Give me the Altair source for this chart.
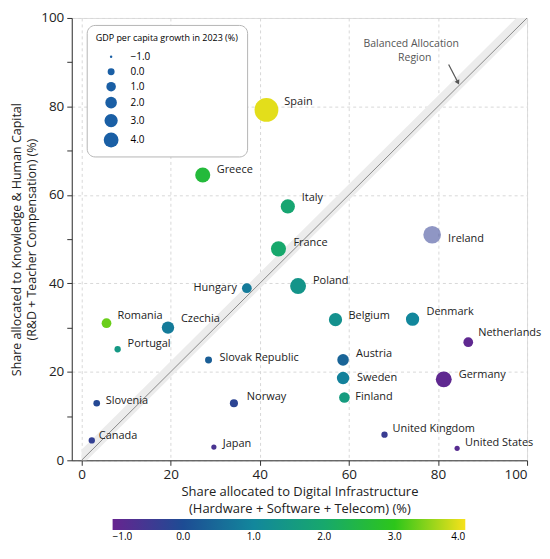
import altair as alt
import pandas as pd

countries = ["Spain", "Greece", "Italy", "France", "Poland", "Belgium", "Denmark", "Ireland",
             "Netherlands", "Germany", "Austria", "Sweden", "Finland", "United Kingdom",
             "United States", "Hungary", "Romania", "Czechia", "Portugal", "Slovak Republic",
             "Slovenia", "Norway", "Canada", "Japan"]
digital = [41.5, 27.2, 46.3, 44.2, 48.6, 57.0, 74.3, 78.7, 86.8, 81.3, 58.7, 58.7, 59.0, 68.0,
           84.3, 37.1, 5.6, 19.4, 8.1, 28.5, 3.4, 34.2, 2.3, 29.7]
knowledge = [79.2, 64.5, 57.4, 47.8, 39.4, 31.8, 31.9, 51.0, 26.7, 18.3, 22.7, 18.6, 14.2, 5.8,
             2.7, 38.9, 31.0, 30.0, 25.1, 22.7, 12.9, 12.9, 4.5, 3.0]
growth = [3.9, 2.6, 1.9, 2.0, 1.4, 1.3, 1.0, -0.3, -0.9, -0.9, 0.4, 0.9, 1.6, -0.4, -0.8, 0.8,
          3.3, 0.8, 1.5, 0.3, -0.1, -0.2, -0.3, -0.6]
bubble = [12.2, 4.2, 3.6, 4.2, 4.8, 3.0, 3.0, 6.2, 1.1, 4.8, 2.0, 2.5, 1.5, -0.2, -0.5, 1.1,
          1.1, 2.5, -0.2, 0.0, -0.1, 0.4, -0.2, -0.5]
alpha = [1, 1, 1, 1, 1, 1, 1, 0.55, 1, 1, 1, 1, 1, 1, 1, 1, 1, 1, 1, 1, 1, 1, 1, 1]
label_dx = [18, 14, 14, 15, 15, 13, 14, 16, 10, 15, 13, 14, 11, 8, 8, -10, 11, 13, 10, 11, 9, 13, 7, 9]
label_dy = [-8, -5, -8, -6, -5, -4, -7, 4, -9, -4, -6, 0, 0, -6, -5, 0, -7, -9, -5, -2, -2, -6, -4, -3]

legend_values = [-1.0, 0.0, 1.0, 2.0, 3.0, 4.0]
color_domain = [-1, 0, 1, 2, 3, 4]
color_range = ["#66248f", "#1d4c94", "#12879c", "#17a86c", "#2dc61a", "#f7e11b"]

diag_x = [0, 100]
band_below = 1.2
band_above = 2.4
ann_lines = ["Balanced Allocation", "Region"]
ann_x = [74.0, 74.8]
ann_y = [94.2, 91.0]
arrow_x = [82.4, 84.5]
arrow_y = [89.5, 85.4]

W, H = 457, 444
XDOM = [-2.2, 100]
PX_X = W / (XDOM[1] - XDOM[0])
PX_Y = H / 100.0

df = pd.DataFrame({"country": countries, "digital": digital, "knowledge": knowledge,
                   "growth": growth, "bubble": bubble, "alpha": alpha,
                   "dx": label_dx, "dy": label_dy})
band_df = pd.DataFrame({"x": diag_x, "lo": [v - band_below for v in diag_x],
                        "hi": [v + band_above for v in diag_x]})
ann_df = pd.DataFrame({"x": ann_x, "y": ann_y, "t": ann_lines})
arrow_df = pd.DataFrame({"x": [arrow_x[0]], "y": [arrow_y[0]], "x2": [arrow_x[1]], "y2": [arrow_y[1]]})
tip_df = pd.DataFrame({"x": [arrow_x[1]], "y": [arrow_y[1]]})

FONT = "Open Sans"
xscale = alt.Scale(domain=XDOM, nice=False, zero=False)
yscale = alt.Scale(domain=[0, 100], nice=False)

xaxis = alt.Axis(values=[0, 20, 40, 60, 80, 100], grid=True, gridDash=[3, 3], gridColor="#d8d8d8",
                 title=["Share allocated to Digital Infrastructure", "(Hardware + Software + Telecom) (%)"],
                 titleFontSize=13, titleFontWeight="normal", titleLineHeight=17,
                 labelFontSize=13.5, tickSize=5,
                 domainColor="#333", tickColor="#333", labelColor="#222", titleColor="#222",
                 titlePadding=5, labelPadding=2)
yaxis = alt.Axis(values=list(range(0, 101, 5)), grid=True, gridDash=[3, 3], gridColor="#d8d8d8",
                 gridOpacity={"condition": {"test": "datum.value % 20 === 0", "value": 1}, "value": 0},
                 labelExpr="datum.value % 20 === 0 ? datum.label : ''",
                 title=["Share allocated to Knowledge & Human Capital", "(R&D + Teacher Compensation) (%)"],
                 titleFontSize=12.5, titleFontWeight="normal", titleLineHeight=15,
                 labelFontSize=13.5, tickSize=5,
                 domainColor="#333", tickColor="#333", labelColor="#222", titleColor="#222",
                 titlePadding=2, labelPadding=3)

band = alt.Chart(band_df).mark_area(color="#ececec", clip=True).encode(
    x=alt.X("x:Q", scale=xscale, axis=xaxis),
    y=alt.Y("lo:Q", scale=yscale, axis=yaxis),
    y2="hi:Q",
)
diag = alt.Chart(band_df).mark_line(color="#8a8a8a", strokeWidth=1, clip=True).encode(
    x="x:Q", y="x:Q"
)

size_legend = alt.Legend(
    title="GDP per capita growth in 2023 (%)", orient="none", legendX=15, legendY=7,
    values=legend_values, format=".1f", padding=9, cornerRadius=8, strokeColor="#b5b5b5",
    fillColor="white", titleFontSize=9, titleFontWeight="normal", titleFont=FONT,
    labelFontSize=10, labelFont=FONT, titlePadding=9, rowPadding=5, symbolStrokeWidth=0,
    symbolFillColor="#1a5fa5", symbolOpacity=1, symbolOffset=8, labelOffset=12,
)
color_legend = alt.Legend(
    orient="none", direction="horizontal", legendX=41, legendY=503, gradientLength=354,
    gradientThickness=11, values=legend_values, format=".1f", labelFontSize=10, labelFont=FONT,
    labelOverlap=False, gradientStrokeWidth=0,
)

points = alt.Chart(df).mark_circle(opacity=1).encode(
    x="digital:Q",
    y="knowledge:Q",
    size=alt.Size("bubble:Q", scale=alt.Scale(domain=[-1, 4], range=[6, 220], zero=False),
                  legend=size_legend),
    color=alt.Color("growth:Q", title=None,
                    scale=alt.Scale(domain=color_domain, range=color_range, interpolate="rgb"),
                    legend=color_legend),
    opacity=alt.Opacity("alpha:Q", scale=None, legend=None),
)

label_base = alt.Chart(df).transform_calculate(
    lx=f"datum.digital + datum.dx / {PX_X}",
    ly=f"datum.knowledge - datum.dy / {PX_Y}",
)
labels_left = label_base.transform_filter("datum.dx > 0").mark_text(
    align="left", baseline="middle", fontSize=11, font=FONT, color="#222"
).encode(x="lx:Q", y="ly:Q", text="country:N")
labels_right = label_base.transform_filter("datum.dx < 0").mark_text(
    align="right", baseline="middle", fontSize=11, font=FONT, color="#222"
).encode(x="lx:Q", y="ly:Q", text="country:N")

ann = alt.Chart(ann_df).mark_text(align="center", baseline="middle", fontSize=10.5, font=FONT,
                                  color="#555").encode(x="x:Q", y="y:Q", text="t:N")
arrow = alt.Chart(arrow_df).mark_rule(color="#555", strokeWidth=1.2).encode(
    x="x:Q", y="y:Q", x2="x2:Q", y2="y2:Q")
tip = alt.Chart(tip_df).mark_point(shape="triangle-down", filled=True, size=28, angle=333,
                                   color="#555", opacity=1).encode(x="x:Q", y="y:Q")

chart = alt.layer(band, diag, ann, arrow, tip, points, labels_left, labels_right).properties(
    width=W, height=H, padding={"left": 2, "top": 2, "right": 0, "bottom": 0}
).configure_view(stroke="transparent").configure(font=FONT)

chart.save("out.html", embed_options={"renderer": "svg", "actions": False})
